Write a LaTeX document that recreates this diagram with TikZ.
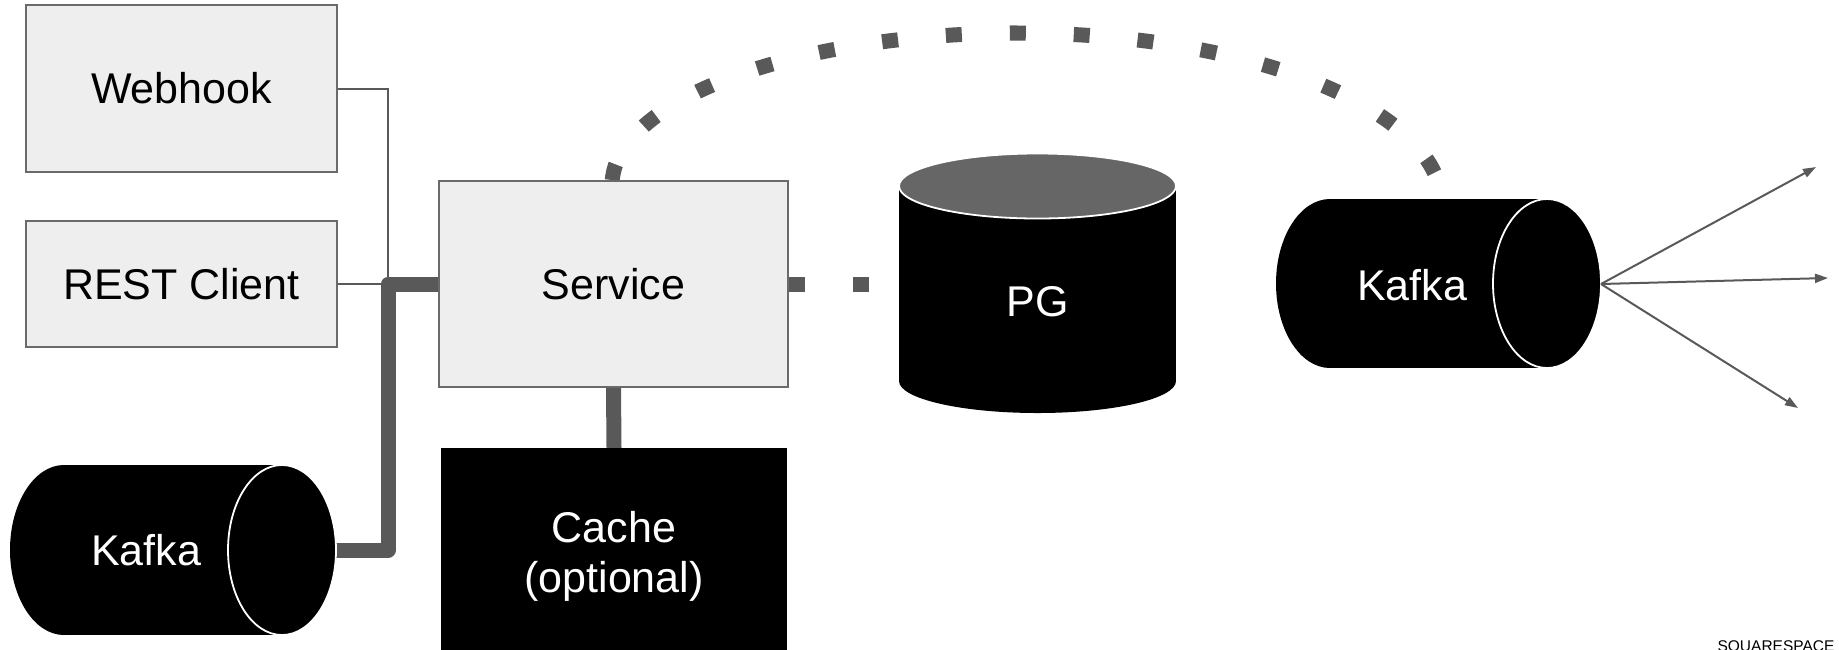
\documentclass[tikz,border=0pt]{standalone}
\usepackage{fontspec}
\setmainfont{Liberation Sans}
\usetikzlibrary{arrows.meta}
\definecolor{lineg}{HTML}{595959}
\definecolor{boxfill}{HTML}{EEEEEE}
\definecolor{boxline}{HTML}{6A6A6A}
\definecolor{pgtop}{HTML}{666666}
\pgfdeclarelayer{bg}
\pgfsetlayers{bg,main}
\begin{document}
\begin{tikzpicture}[x=1pt,y=-1pt,
  bigfont/.style={font=\fontsize{43}{50}\selectfont},
  greybox/.style={draw=boxline, line width=2pt, fill=boxfill, inner sep=0pt, bigfont},
  whitetext/.style={text=white, inner sep=0pt, align=center, bigfont},
  thinconn/.style={draw=lineg, line width=2pt},
  thickconn/.style={draw=lineg, line width=15pt, line join=round},
  dotconn/.style={draw=lineg, line width=15pt, dash pattern=on 16pt off 48pt},
  arrowconn/.style={draw=lineg, line width=2pt, -{Triangle[length=13pt,width=9pt]}},
  cylbody/.style={fill=black},
  cylface/.style={fill=black, draw=white, line width=1.8pt}
]
\useasboundingbox (0,0) rectangle (1839,649);

% boxes
\node[greybox, minimum width=311pt, minimum height=167pt] (webhook) at (181.5,88.5) {Webhook};
\node[greybox, minimum width=311pt, minimum height=126pt] (rest) at (181.5,284) {REST Client};
\node[greybox, minimum width=349pt, minimum height=206pt] (service) at (613.5,284) {Service};
\node[fill=black, inner sep=0pt, minimum width=346pt, minimum height=202pt] (cache) at (614,549) {};
\node[whitetext] (cachetext) at (614,556) {Cache\\(optional)};

% PG cylinder
\fill[cylbody] (899,186) rectangle (1176,381);
\fill[cylbody] (1037.5,381) ellipse [x radius=138.5, y radius=32];
\filldraw[fill=pgtop, draw=white, line width=1.8pt] (1037.5,186) ellipse [x radius=138.5, y radius=32.5];
\node[whitetext] (pg) at (1037.5,302) {PG};
\coordinate (pgwest) at (899,284);

% left Kafka
\fill[cylbody] (64,465) rectangle (282,635);
\fill[cylbody] (64,550) ellipse [x radius=54, y radius=85];
\filldraw[cylface] (282,550) ellipse [x radius=54, y radius=85];
\node[whitetext] (kafkaL) at (146,550) {Kafka};
\coordinate (kLout) at (336,550);

% right Kafka
\fill[cylbody] (1330,199) rectangle (1547,368);
\fill[cylbody] (1330,283.5) ellipse [x radius=54, y radius=84.5];
\filldraw[cylface] (1547,283.5) ellipse [x radius=54, y radius=84.5];
\node[whitetext] (kafkaR) at (1412,285) {Kafka};
\coordinate (kRout) at (1601,284);

% arrow ends
\coordinate (t1) at (1816,167);
\coordinate (t2) at (1828,278);
\coordinate (t3) at (1798,408);

\begin{pgfonlayer}{bg}
\draw[thinconn] (webhook.east) -- (388,88.5) -- (388,284);
\draw[thinconn] (rest.east) -- (388,284);
\draw[thickconn] (kLout) -- (388,550) -- (388,284) -- (service.west);
\draw[thickconn] (service.south) -- (cache.north);
\draw[dotconn] (service.east) -- (pgwest);
\draw[dotconn, dash phase=59pt]
  plot[domain=180:90, samples=60] ({1018+406*cos(\x)},{185-152*sin(\x)})
  -- plot[domain=90:0, samples=60] ({1018+424*cos(\x)},{205-172*sin(\x)});
\end{pgfonlayer}

\draw[arrowconn] (kRout) -- (t1);
\draw[arrowconn] (kRout) -- (t2);
\draw[arrowconn] (kRout) -- (t3);

\node[font=\fontsize{15.5}{15.5}\selectfont, anchor=base, inner sep=0pt] (sq) at (1776,651.5) {SQUARESPACE};
\end{tikzpicture}
\end{document}
